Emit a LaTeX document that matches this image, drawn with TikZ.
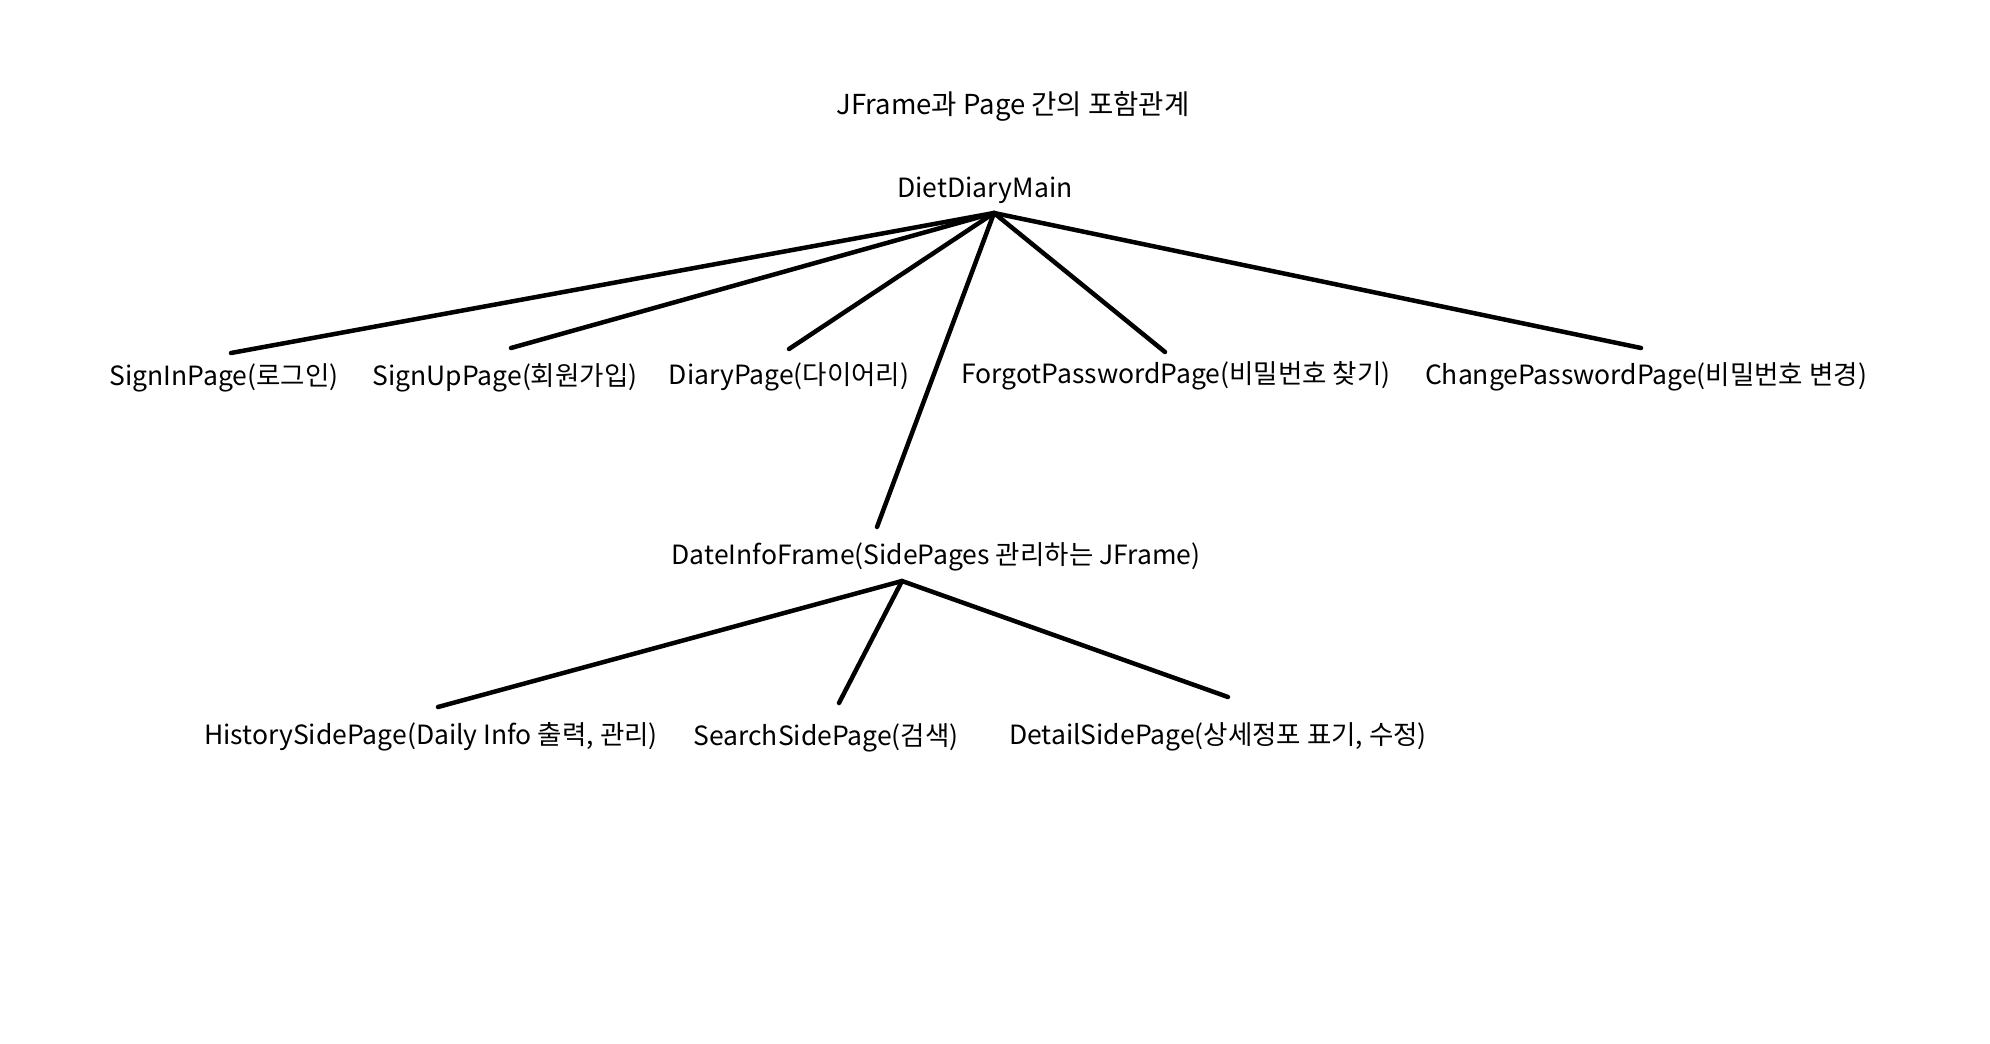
\documentclass[tikz,border=0pt]{standalone}
\usepackage{fontspec}
\setmainfont{Noto Sans CJK KR}
\begin{document}
\begin{tikzpicture}[x=1pt,y=-1pt,
  lbl/.style={font=\fontsize{26.5}{30}\selectfont, inner sep=0pt, anchor=center},
  link/.style={line width=4.5pt, line cap=round}]
\useasboundingbox (0,0) rectangle (1990,1044);
\node[lbl, font=\fontsize{27.5}{31}\selectfont] (title) at (1013,106) {JFrame과 Page 간의 포함관계};
\node[lbl] (main) at (985,190) {DietDiaryMain};
\coordinate (hub) at (994,213);
\node[lbl] (signin) at (224,378) {SignInPage(로그인)};
\node[lbl] (signup) at (505,378) {SignUpPage(회원가입)};
\node[lbl] (diary) at (789,377) {DiaryPage(다이어리)};
\node[lbl] (forgot) at (1176,376) {ForgotPasswordPage(비밀번호 찾기)};
\node[lbl] (change) at (1646,377) {ChangePasswordPage(비밀번호 변경)};
\node[lbl] (date) at (936,557) {DateInfoFrame(SidePages 관리하는 JFrame)};
\coordinate (hub2) at (902,581);
\node[lbl] (hist) at (431,737) {HistorySidePage(Daily Info 출력, 관리)};
\node[lbl] (search) at (826,738) {SearchSidePage(검색)};
\node[lbl] (detail) at (1218,737) {DetailSidePage(상세정포 표기, 수정)};
\coordinate (e1) at (231,353);
\coordinate (e2) at (511,348);
\coordinate (e3) at (789,349);
\coordinate (e4) at (1165,352);
\coordinate (e5) at (1641,348);
\coordinate (e6) at (877,527);
\coordinate (f1) at (438,707);
\coordinate (f2) at (839,703);
\coordinate (f3) at (1228,697);
\foreach \e in {e1,e2,e3,e4,e5,e6} \draw[link] (hub) -- (\e);
\foreach \e in {f1,f2,f3} \draw[link] (hub2) -- (\e);
\end{tikzpicture}
\end{document}
